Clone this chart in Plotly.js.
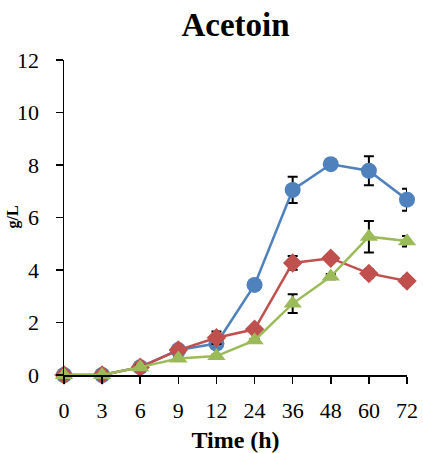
<!DOCTYPE html>
<html>
<head>
<meta charset="utf-8">
<script src="https://cdn.plot.ly/plotly-3.0.1.min.js"></script>
<style>html,body{margin:0;padding:0;background:#fff;}#chart{width:423px;height:453px;}</style>
</head>
<body>
<div id="chart"></div>
<script>
var timeLabels = ["0","3","6","9","12","24","36","48","60","72"];
var blueValues = [0, 0, 0.3, 0.95, 1.2, 3.43, 7.05, 8.03, 7.78, 6.68];
var blueErrors = [0.02, 0.02, 0.05, 0.08, 0.1, 0.08, 0.5, 0.1, 0.55, 0.42];
var redValues = [0, 0, 0.3, 0.95, 1.42, 1.74, 4.27, 4.45, 3.87, 3.58];
var redErrors = [0.02, 0.02, 0.05, 0.08, 0.24, 0.1, 0.26, 0.1, 0.16, 0.16];
var greenValues = [0, 0, 0.3, 0.63, 0.72, 1.32, 2.72, 3.75, 5.27, 5.1];
var greenErrors = [0.02, 0.02, 0.05, 0.05, 0.05, 0.05, 0.36, 0.1, 0.6, 0.2];

var idx = timeLabels.map(function(_, i){ return i; });
var font = "'Liberation Serif', 'Times New Roman', serif";

function series(vals, errs, color, symbol, size){
  return {
    type: "scatter", mode: "lines+markers", x: idx, y: vals,
    line: {color: color, width: 2.5},
    marker: {color: color, symbol: symbol, size: size},
    error_y: {type: "data", array: errs, visible: true, color: "#000", thickness: 2, width: 5},
    cliponaxis: false, showlegend: false
  };
}

var data = [
  series(blueValues, blueErrors, "#4F81BD", "circle", 16),
  series(redValues, redErrors, "#C0504D", "diamond", 15),
  series(greenValues, greenErrors, "#9BBB59", "triangle-up", 16)
];

var layout = {
  width: 423, height: 453,
  margin: {l: 64, r: 16, t: 60, b: 78},
  paper_bgcolor: "#fff", plot_bgcolor: "#fff",
  font: {family: font, color: "#000", size: 22},
  title: {text: "<b>Acetoin</b>", font: {family: font, size: 33, color: "#000"},
          xref: "paper", x: 0.5, xanchor: "center", yref: "container", y: 1 - 24/453, yanchor: "middle"},
  xaxis: {
    range: [0, 9], tickmode: "array", tickvals: idx, ticktext: timeLabels,
    showline: true, linecolor: "#000", linewidth: 1.5,
    ticks: "outside", ticklen: 7, tickwidth: 1.5, tickcolor: "#000",
    showgrid: false, zeroline: false, ticklabelstandoff: 8,
    tickfont: {family: font, size: 22, color: "#000"},
    title: {text: "<b>Time (h)</b>", font: {family: font, size: 24, color: "#000"}, standoff: 9}
  },
  yaxis: {
    range: [0, 12], tickmode: "array", tickvals: [0,2,4,6,8,10,12],
    showline: true, linecolor: "#000", linewidth: 1.5,
    ticks: "outside", ticklen: 7, tickwidth: 1.5, tickcolor: "#000",
    showgrid: false, zeroline: false, ticklabelstandoff: 12,
    tickfont: {family: font, size: 22, color: "#000"}
  },
  annotations: [{
    text: "<b>g/L</b>", textangle: -90, xref: "paper", yref: "paper",
    x: (1 - 64) / 343, y: 0.5, xanchor: "left", yanchor: "middle", showarrow: false,
    font: {family: font, size: 16, color: "#000"}
  }]
};

Plotly.newPlot("chart", data, layout, {displayModeBar: false, staticPlot: true});
</script>
</body>
</html>
